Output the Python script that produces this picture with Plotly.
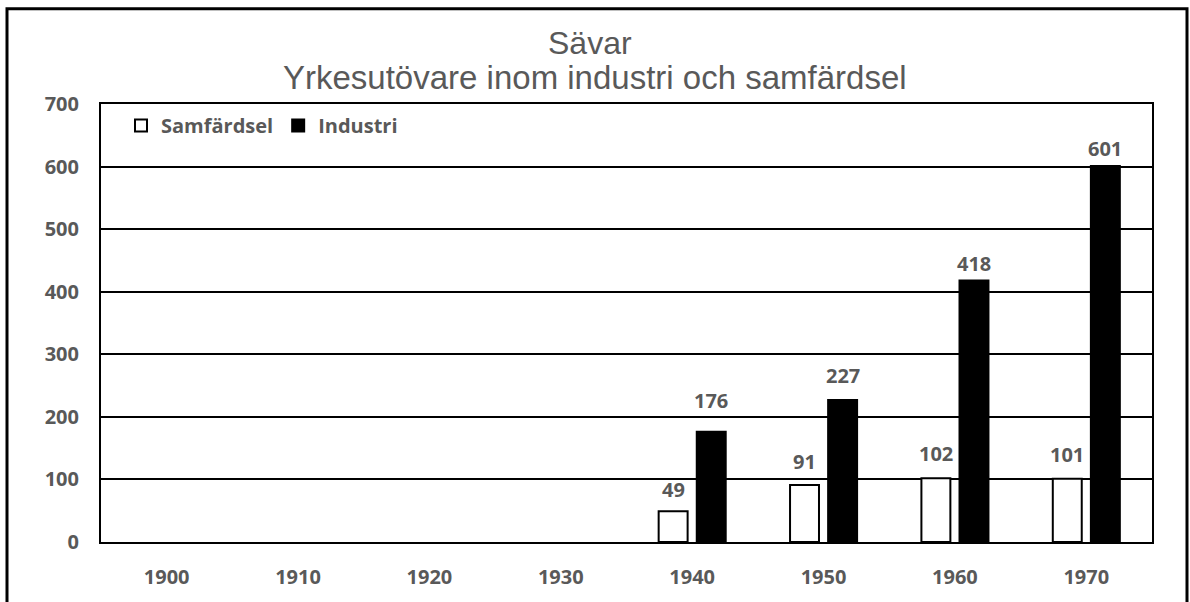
import plotly.graph_objects as go

# Sävar: yrkesutövare inom industri och samfärdsel per decennium
years = ["1900", "1910", "1920", "1930", "1940", "1950", "1960", "1970"]
samfardsel = [None, None, None, None, 49, 91, 102, 101]
industri = [None, None, None, None, 176, 227, 418, 601]

y_ticks = [0, 100, 200, 300, 400, 500, 600, 700]

# vertical distance (px) from bar top to the centre of its value label
samf_label_lift = [0, 0, 0, 0, 22, 23.5, 24.5, 24.5]
ind_label_lift = [0, 0, 0, 0, 31.5, 24, 16.5, 17.5]

GRAY = "#595959"
BOLD = dict(family="Open Sans, sans-serif", size=20, color=GRAY, weight="bold")
TITLE_FONT = dict(family="Liberation Sans, Arial, sans-serif", size=32, color=GRAY)
SUBTITLE_FONT = dict(family="Liberation Sans, Arial, sans-serif", size=33, color=GRAY)

W, H = 1190, 602
L, R, T, B = 101, 38, 104, 52
pw, ph = W - L - R, H - T - B
BARGAP = 0.42


def px_x(x):
    return (x - L) / pw


def px_y(y):
    return (H - B - y) / ph


fig = go.Figure()
fig.add_trace(go.Bar(
    name="Samfärdsel", x=years, y=samfardsel,
    marker=dict(color="white", line=dict(color="black", width=2)),
))
fig.add_trace(go.Bar(
    name="Industri", x=years, y=industri,
    marker=dict(color="black", line=dict(color="black", width=2)),
))

# value labels above the bars (category axis positions are given by index)
annotations = []
slot = (1 - BARGAP) * pw / len(years) / 2
for series, lifts, side in ((samfardsel, samf_label_lift, -1), (industri, ind_label_lift, 1)):
    for i, (v, lift) in enumerate(zip(series, lifts)):
        if v is None:
            continue
        annotations.append(dict(
            x=i, y=v, xref="x", yref="y", text=str(v), showarrow=False,
            xanchor="center", yanchor="middle", xshift=side * slot / 2,
            yshift=lift, font=BOLD,
        ))

# two-line chart heading
annotations.append(dict(
    text="Sävar", x=px_x(590), y=px_y(42), xref="paper", yref="paper",
    showarrow=False, xanchor="center", yanchor="middle", font=TITLE_FONT,
))
annotations.append(dict(
    text="Yrkesutövare inom industri och samfärdsel", x=px_x(595), y=px_y(77),
    xref="paper", yref="paper", showarrow=False, xanchor="center",
    yanchor="middle", font=SUBTITLE_FONT,
))

fig.update_layout(
    width=W, height=H,
    margin=dict(l=L, r=R, t=T, b=B),
    paper_bgcolor="white", plot_bgcolor="white",
    barmode="group", bargap=BARGAP, bargroupgap=0.24,
    showlegend=True,
    legend=dict(
        orientation="h", x=px_x(121), y=px_y(106), xanchor="left", yanchor="top",
        font=BOLD, bgcolor="rgba(0,0,0,0)", itemwidth=30, traceorder="normal",
    ),
    xaxis=dict(
        type="category", range=[-0.5, len(years) - 0.5], showgrid=False,
        showline=True, linecolor="black", linewidth=2, mirror=True, ticks="",
        tickfont=BOLD, ticklabelstandoff=16,
    ),
    yaxis=dict(
        range=[0, 700], tickvals=y_ticks, showgrid=True, gridcolor="black",
        gridwidth=2, showline=True, linecolor="black", linewidth=2, mirror=True,
        ticks="", tickfont=BOLD, ticklabelstandoff=16, zeroline=False,
    ),
    annotations=annotations,
    shapes=[dict(
        type="rect", xref="paper", yref="paper",
        x0=px_x(7), x1=px_x(1187), y0=px_y(640), y1=px_y(7),
        line=dict(color="black", width=3), fillcolor="rgba(0,0,0,0)", layer="below",
    )],
)

fig.write_html("out.html")
